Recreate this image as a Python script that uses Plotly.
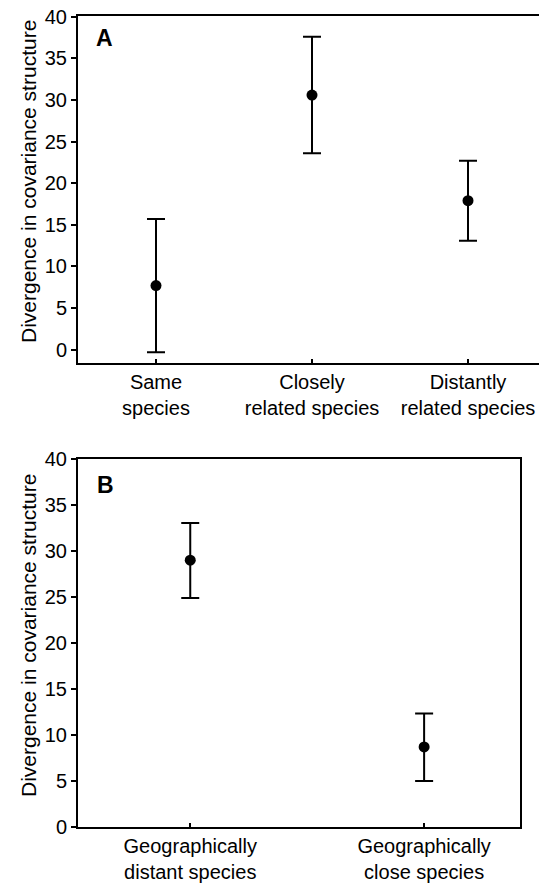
import plotly.graph_objects as go

# Panel A data
cats_a = ["Same<br>species", "Closely<br>related species", "Distantly<br>related species"]
mean_a = [7.7, 30.6, 17.9]
upper_a = [15.7, 37.6, 22.7]
lower_a = [-0.3, 23.6, 13.1]

# Panel B data
cats_b = ["Geographically<br>distant species", "Geographically<br>close species"]
mean_b = [29.0, 8.7]
upper_b = [33.05, 12.35]
lower_b = [24.9, 5.0]

ytitle = "Divergence in covariance structure"
yticks = [0, 5, 10, 15, 20, 25, 30, 35, 40]

OFF = 8  # default page body margin
W, H = 547 - OFF, 884 - OFF
FONT = "Liberation Sans, Arial, sans-serif"

def px_x(x):
    return (x - OFF) / W

def px_y(y):
    return 1 - (y - OFF) / H

fig = go.Figure()

fig.add_trace(go.Scatter(
    x=cats_a, y=mean_a, mode="markers",
    marker=dict(color="black", size=11),
    error_y=dict(type="data", symmetric=False,
                 array=[u - m for u, m in zip(upper_a, mean_a)],
                 arrayminus=[m - l for m, l in zip(mean_a, lower_a)],
                 color="black", thickness=2, width=9),
    xaxis="x", yaxis="y", showlegend=False))

fig.add_trace(go.Scatter(
    x=cats_b, y=mean_b, mode="markers",
    marker=dict(color="black", size=11),
    error_y=dict(type="data", symmetric=False,
                 array=[u - m for u, m in zip(upper_b, mean_b)],
                 arrayminus=[m - l for m, l in zip(mean_b, lower_b)],
                 color="black", thickness=2, width=9),
    xaxis="x2", yaxis="y2", showlegend=False))

axis_common = dict(showline=True, linecolor="black", linewidth=2, mirror=True,
                   showgrid=False, zeroline=False, automargin=False,
                   ticklabeloverflow="allow",
                   tickfont=dict(family=FONT, size=20, color="black"),
                   tickcolor="black", tickwidth=2)

fig.update_layout(
    template="none",
    width=W, height=H,
    margin=dict(l=0, r=0, t=0, b=0),
    paper_bgcolor="white", plot_bgcolor="white",
    font=dict(family=FONT, color="black"),
    showlegend=False,
    xaxis=dict(domain=[px_x(78), px_x(546)], anchor="y",
               range=[-0.5, 2.5], ticks="inside", ticklen=4,
               **axis_common),
    yaxis=dict(domain=[px_y(363), px_y(16)], anchor="x",
               range=[-1.6, 40.1], tickvals=yticks, ticks="outside", ticklen=5,
               **axis_common),
    xaxis2=dict(domain=[px_x(78), px_x(520)], anchor="y2",
                range=[-0.48, 1.41], ticks="inside", ticklen=4,
                **axis_common),
    yaxis2=dict(domain=[px_y(827), px_y(459)], anchor="x2",
                range=[0, 40], tickvals=yticks, ticks="outside", ticklen=5,
                **axis_common),
    annotations=[
        dict(text=ytitle, textangle=-90, x=px_x(28), y=px_y(182),
             xref="paper", yref="paper", showarrow=False,
             xanchor="center", yanchor="middle",
             font=dict(family=FONT, size=21, color="black")),
        dict(text=ytitle, textangle=-90, x=px_x(28), y=px_y(636),
             xref="paper", yref="paper", showarrow=False,
             xanchor="center", yanchor="middle",
             font=dict(family=FONT, size=21, color="black")),
        dict(text="<b>A</b>", x=px_x(104), y=px_y(38),
             xref="paper", yref="paper", showarrow=False,
             xanchor="center", yanchor="middle",
             font=dict(family=FONT, size=23, color="black")),
        dict(text="<b>B</b>", x=px_x(105), y=px_y(485),
             xref="paper", yref="paper", showarrow=False,
             xanchor="center", yanchor="middle",
             font=dict(family=FONT, size=23, color="black")),
    ],
)

fig.write_html("out.html")
